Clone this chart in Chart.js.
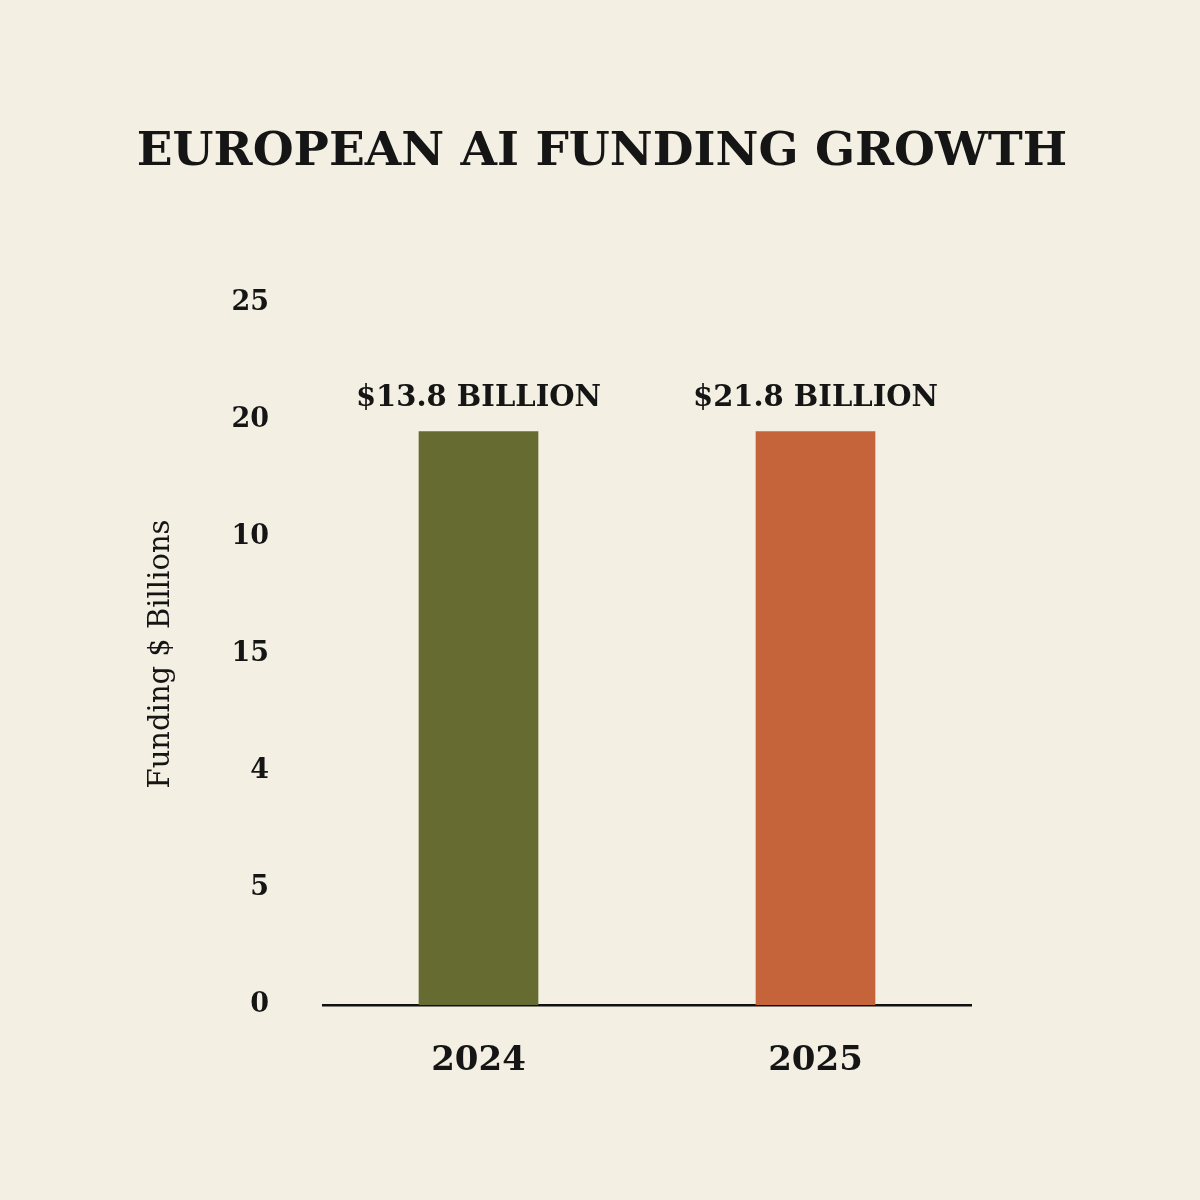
<!DOCTYPE html>
<html>
<head>
<meta charset="utf-8">
<script src="https://cdn.jsdelivr.net/npm/chart.js@4/dist/chart.umd.min.js"></script>
<style>
  html, body { margin: 0; padding: 0; background: #f3efe3; }
  #wrap { width: 1200px; height: 1200px; }
</style>
</head>
<body>
<div id="wrap"><canvas id="c" width="1200" height="1200"></canvas></div>
<script>
// ---- data ----
const years = ['2024', '2025'];
const fundingBillions = [13.8, 21.8];          // values printed above the bars
const barHeights = [4.9, 4.9];                 // bar tops on the (position-based) y axis as drawn
const yTickLabels = ['0', '5', '4', '15', '10', '20', '25']; // y tick labels, bottom to top
const barColors = ['#666b31', '#c5643a'];
const chartTitle = 'EUROPEAN AI FUNDING GROWTH';
const yAxisTitle = 'Funding $ Billions';

const SERIF = "'DejaVu Serif', 'Liberation Serif', serif";

// Page title, centred on the canvas (Chart.js' own title would be squeezed into the padded box)
const pageTitle = {
  id: 'pageTitle',
  afterDraw(chart) {
    const ctx = chart.ctx;
    ctx.save();
    ctx.font = 'bold 47px ' + SERIF;
    ctx.fillStyle = '#151515';
    ctx.textAlign = 'center';
    ctx.textBaseline = 'alphabetic';
    ctx.fillText(chartTitle, chart.width / 2 + 2, 165);
    ctx.restore();
  }
};

const valueLabels = {
  id: 'valueLabels',
  afterDatasetsDraw(chart) {
    const ctx = chart.ctx;
    const meta = chart.getDatasetMeta(0);
    ctx.save();
    ctx.font = 'bold 29px ' + SERIF;
    ctx.fillStyle = '#151515';
    ctx.textAlign = 'center';
    ctx.textBaseline = 'alphabetic';
    meta.data.forEach((bar, i) => {
      ctx.fillText('$' + fundingBillions[i].toFixed(1) + ' BILLION', bar.x, bar.y - 26);
    });
    ctx.restore();
  }
};

new Chart(document.getElementById('c'), {
  type: 'bar',
  data: {
    datasets: [{
      data: years.map((_, i) => ({ x: i, y: barHeights[i] })),
      backgroundColor: barColors,
      borderWidth: 0,
      barThickness: 119
    }]
  },
  options: {
    responsive: false,
    animation: false,
    devicePixelRatio: 1,
    layout: { padding: { top: 303, left: 144, right: 229, bottom: 45 } },
    plugins: {
      legend: { display: false },
      tooltip: { enabled: false },
      title: { display: false }
    },
    scales: {
      x: {
        type: 'linear',
        offset: false,
        min: -0.4614,
        max: 1.4614,
        afterBuildTicks(scale) { scale.ticks = years.map((_, i) => ({ value: i })); },
        afterFit(scale) { scale.height = 150; },
        ticks: {
          callback: (v) => years[v],
          color: '#151515',
          font: { family: SERIF, size: 34, weight: 'bold' },
          padding: 36,
          autoSkip: false,
          maxRotation: 0
        },
        grid: { display: false, drawTicks: false, offset: false },
        border: { display: true, color: '#111111', width: 2.5 }
      },
      y: {
        min: 0,
        max: 6,
        afterBuildTicks(scale) { scale.ticks = yTickLabels.map((_, i) => ({ value: i })); },
        afterFit(scale) { scale.width = 179; },
        ticks: {
          callback: (v) => yTickLabels[v],
          color: '#151515',
          font: { family: SERIF, size: 27, weight: 'bold' },
          padding: 54
        },
        grid: { display: false, drawTicks: false },
        border: { display: false },
        title: {
          display: true,
          text: yAxisTitle,
          color: '#151515',
          font: { family: SERIF, size: 29, weight: 'normal' },
          padding: 0
        }
      }
    }
  },
  plugins: [valueLabels, pageTitle]
});
</script>
</body>
</html>
